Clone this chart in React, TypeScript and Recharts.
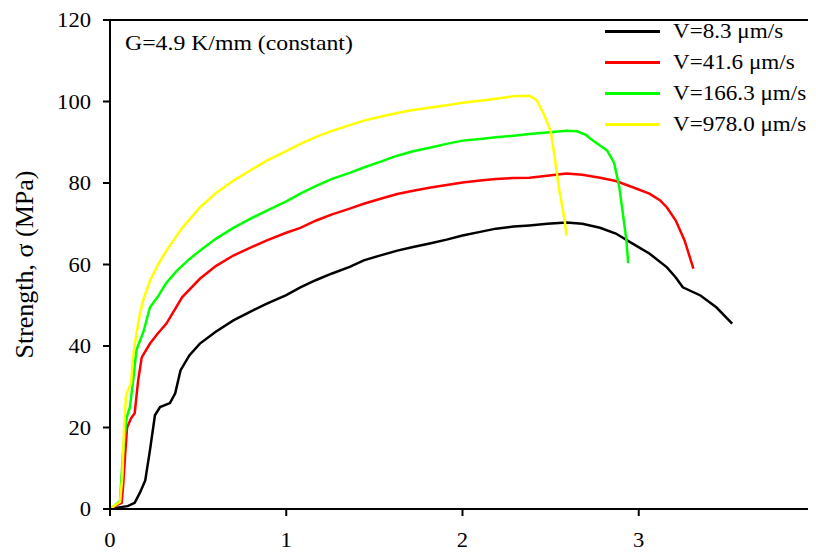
import React from "react";
import { LineChart, Line, XAxis, YAxis } from "recharts";

const xTicks = [0, 1, 2, 3, 4];
const yTicks = [0, 20, 40, 60, 80, 100, 120];

const seriesNames = ["V=8.3 μm/s", "V=41.6 μm/s", "V=166.3 μm/s", "V=978.0 μm/s"];
const seriesColors = ["#000000", "#ff0000", "#00ff00", "#ffff00"];

const v8_3 = [
  [0, 0], [0.05, 0.4], [0.1, 0.7], [0.14, 1.5], [0.17, 4], [0.2, 7], [0.227, 14.5], [0.255, 23], [0.284, 25],
  [0.34, 26], [0.37, 28.4], [0.4, 34], [0.45, 37.7], [0.51, 40.6], [0.6, 43.5], [0.7, 46.3], [0.8, 48.5],
  [0.89, 50.4], [1.0, 52.5], [1.08, 54.4], [1.17, 56.2], [1.26, 57.8], [1.36, 59.4], [1.44, 61], [1.54, 62.3],
  [1.63, 63.4], [1.72, 64.3], [1.82, 65.2], [1.91, 66.1], [2.0, 67.1], [2.1, 68], [2.19, 68.8], [2.29, 69.3],
  [2.38, 69.6], [2.48, 70], [2.59, 70.3], [2.68, 70], [2.78, 69], [2.87, 67.6], [2.97, 65], [3.06, 62.7],
  [3.16, 59.3], [3.21, 56.8], [3.25, 54.4], [3.35, 52.4], [3.44, 49.5], [3.53, 45.5],
];

const v41_6 = [
  [0, 0], [0.04, 1], [0.066, 1.5], [0.075, 6], [0.085, 12.7], [0.097, 20], [0.12, 22.3], [0.14, 23.5],
  [0.16, 31.6], [0.18, 37.2], [0.227, 40.6], [0.27, 43], [0.32, 45.5], [0.41, 52], [0.51, 56.5], [0.6, 59.6],
  [0.7, 62.2], [0.8, 64.2], [0.89, 65.9], [1.0, 67.8], [1.08, 69], [1.17, 70.8], [1.26, 72.3], [1.36, 73.7],
  [1.44, 74.9], [1.54, 76.2], [1.63, 77.3], [1.72, 78.1], [1.82, 78.9], [1.91, 79.5], [2.0, 80.1], [2.1, 80.6],
  [2.19, 81], [2.29, 81.2], [2.38, 81.3], [2.48, 81.8], [2.59, 82.3], [2.68, 82], [2.78, 81.3], [2.87, 80.5],
  [2.97, 78.9], [3.06, 77.4], [3.12, 75.8], [3.16, 74], [3.21, 70.8], [3.26, 65.9], [3.31, 59],
];

const v166_3 = [
  [0, 0], [0.03, 1], [0.057, 2], [0.075, 14.5], [0.095, 22.5], [0.113, 25], [0.13, 31], [0.15, 39],
  [0.19, 43.5], [0.227, 49.5], [0.27, 52], [0.32, 55.5], [0.38, 58.5], [0.45, 61.3], [0.51, 63.4], [0.6, 66.3],
  [0.7, 69], [0.8, 71.3], [0.89, 73.2], [1.0, 75.5], [1.08, 77.4], [1.17, 79.3], [1.26, 81], [1.36, 82.5],
  [1.44, 83.8], [1.54, 85.3], [1.63, 86.7], [1.72, 87.8], [1.82, 88.7], [1.91, 89.6], [2.0, 90.4], [2.1, 90.8],
  [2.19, 91.2], [2.29, 91.6], [2.38, 92], [2.48, 92.4], [2.59, 92.8], [2.65, 92.7], [2.7, 91.8], [2.74, 90.4],
  [2.78, 89.2], [2.82, 88], [2.86, 85], [2.88, 81], [2.89, 78.9], [2.91, 72.5], [2.93, 65.9], [2.94, 60.3],
];

const v978_0 = [
  [0, 0], [0.03, 1], [0.057, 1.7], [0.07, 8], [0.08, 20], [0.09, 27.4], [0.1, 29], [0.12, 31], [0.13, 37.2],
  [0.15, 43], [0.17, 48], [0.19, 51.5], [0.227, 56], [0.27, 59.8], [0.32, 63.4], [0.41, 69], [0.51, 74],
  [0.6, 77.5], [0.7, 80.6], [0.8, 83.2], [0.89, 85.5], [1.0, 87.8], [1.08, 89.6], [1.17, 91.3], [1.26, 92.8],
  [1.36, 94.2], [1.44, 95.3], [1.54, 96.3], [1.63, 97.2], [1.72, 97.9], [1.82, 98.5], [1.91, 99.1], [2.0, 99.7],
  [2.1, 100.2], [2.19, 100.7], [2.29, 101.3], [2.38, 101.4], [2.42, 100.4], [2.46, 97], [2.5, 92.8],
  [2.52, 87.2], [2.55, 78], [2.58, 70.8], [2.59, 67.1],
];

const allSeries = [v8_3, v41_6, v166_3, v978_0];
const toRows = (pts: number[][]) => pts.map(([x, y]) => ({ x, y }));

const FONT = '"Liberation Serif", "Times New Roman", serif';

const YTick = (props: any) => {
  const { x, y, payload } = props;
  return (
    <text transform={`translate(${x},${y}) scale(1.13,1)`} textAnchor="end" dy="0.35em"
      fontFamily={FONT} fontSize={20} fill="#000">
      {payload.value}
    </text>
  );
};

const XTick = (props: any) => {
  const { x, y, payload } = props;
  return (
    <text transform={`translate(${x},${y}) scale(1.13,1)`} textAnchor="middle" dy="0.71em"
      fontFamily={FONT} fontSize={20} fill="#000">
      {payload.value}
    </text>
  );
};

const YLabel = (props: any) => {
  const vb = props.viewBox || { x: 42, y: 12, width: 60, height: 489 };
  const cx = vb.x - 26;
  const cy = vb.y + vb.height / 2;
  return (
    <text transform={`translate(${cx},${cy}) rotate(-90)`} textAnchor="middle" dy="0.35em"
      fontFamily={FONT} fontSize={26} fill="#000">
      Strength, σ (MPa)
    </text>
  );
};

const LegendBox = () => (
  <div style={{ position: "absolute", left: 597, top: 8, fontFamily: FONT }}>
    {seriesNames.map((n, i) => (
      <div key={n} style={{ display: "flex", alignItems: "center", height: 31 }}>
        <div style={{ width: 55, height: 3, background: seriesColors[i], marginRight: 13 }} />
        <span style={{ fontSize: 21, whiteSpace: "nowrap", display: "inline-block", transform: "scaleX(1.1)", transformOrigin: "left center", color: "#000" }}>
          {n}
        </span>
      </div>
    ))}
  </div>
);

export default function App() {
  return (
    <div style={{ position: "relative", width: 808, height: 544 }}>
      <LineChart width={808} height={544} margin={{ top: 12, right: 1, bottom: 3, left: 42 }}>
        <XAxis type="number" dataKey="x" domain={[0, 4]} ticks={xTicks} interval={0}
          stroke="#000" strokeWidth={2} tickSize={7} tickMargin={17} height={40}
          tickLine={{ stroke: "#000", strokeWidth: 2 }} tick={<XTick />} allowDataOverflow />
        <YAxis type="number" domain={[0, 120]} ticks={yTicks} interval={0}
          stroke="#000" strokeWidth={2} tickSize={7} tickMargin={12} width={60}
          tickLine={{ stroke: "#000", strokeWidth: 2 }} tick={<YTick />} label={<YLabel />} allowDataOverflow />
        {allSeries.map((s, i) => (
          <Line key={seriesNames[i]} data={toRows(s)} dataKey="y" name={seriesNames[i]} type="linear"
            stroke={seriesColors[i]} strokeWidth={2.5} dot={false} activeDot={false} isAnimationActive={false} />
        ))}
      </LineChart>
      <div style={{ position: "absolute", left: 101, top: 11, width: 707, height: 491, boxSizing: "border-box",
        borderTop: "2px solid #000", borderRight: "2px solid #000", pointerEvents: "none" }} />
      <LegendBox />
      <div style={{ position: "absolute", left: 117, top: 22, fontFamily: FONT, fontSize: 22, whiteSpace: "nowrap", transform: "scaleX(1.08)", transformOrigin: "left center", lineHeight: "26px" }}>
        G=4.9 K/mm (constant)
      </div>
    </div>
  );
}
